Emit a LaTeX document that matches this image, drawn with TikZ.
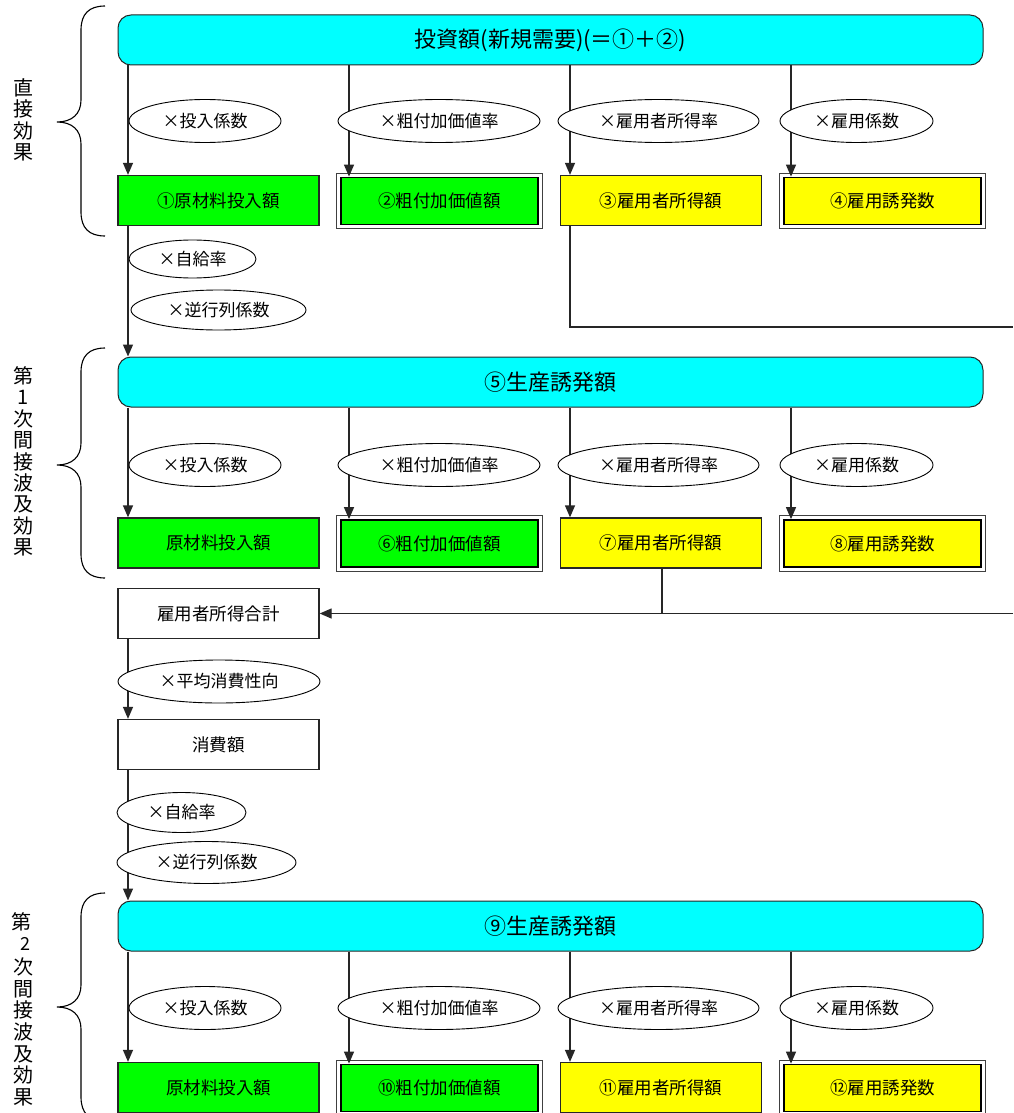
\documentclass[tikz,border=0pt]{standalone}
\usepackage{fontspec}
\setmainfont{Noto Sans CJK JP}
\usetikzlibrary{arrows.meta,shapes.geometric,calc}
\definecolor{aqua}{RGB}{0,255,255}
\definecolor{lime}{RGB}{0,255,0}
\definecolor{yel}{RGB}{255,255,0}
\begin{document}
\begin{tikzpicture}[x=1pt,y=-1pt,
 every node/.style={inner sep=0pt},
 conn/.style={line width=1.3pt, draw=black!85},
 arr/.style={conn, -{Triangle[width=10pt,length=12pt]}},
 bigbox/.style={draw=black!85, line width=1pt, fill=aqua, rounded corners=13pt, minimum width=865pt, minimum height=50pt, font=\fontsize{22}{26}\selectfont},
 box/.style={draw=black!85, line width=1.3pt, minimum width=201pt, minimum height=50pt, font=\fontsize{17.5}{20}\selectfont},
 dbox/.style={draw=black, line width=1.8pt, minimum width=197pt, minimum height=47pt, font=\fontsize{17.5}{20}\selectfont},
 outline/.style={draw=black!75, line width=0.9pt},
 oval/.style={ellipse, draw=black, line width=0.9pt, fill=white, minimum height=43pt, font=\fontsize{17}{20}\selectfont},
 brace/.style={line width=1.1pt, draw=black},
 side/.style={align=center, font=\fontsize{20}{21.4}\selectfont}
]
\useasboundingbox (0,0) rectangle (1013,1113);
\fill[white] (0,0) rectangle (1013,1113);

% x positions of connectors
\coordinate (xa) at (128,0);
\coordinate (xb) at (349,0);
\coordinate (xc) at (570,0);
\coordinate (xd) at (791,0);
\coordinate (xj) at (662,0);
\coordinate (r1) at (1013,327);
\coordinate (r2) at (1013,613.5);

% boxes
\node[bigbox] (top) at (550.5,40) {投資額(新規需要)(＝①＋②)};
\node[box, fill=lime] (a1) at (218.5,200.5) {①原材料投入額};
\node[dbox, fill=lime] (a2) at (439.5,201) {②粗付加価値額};
\node[box, fill=yel] (a3) at (661,200.5) {③雇用者所得額};
\node[dbox, fill=yel] (a4) at (882.5,201) {④雇用誘発数};

\node[bigbox] (m) at (550.5,382) {⑤生産誘発額};
\node[box, fill=lime] (b1) at (218.5,543) {原材料投入額};
\node[dbox, fill=lime] (b2) at (439.5,543.5) {⑥粗付加価値額};
\node[box, fill=yel] (b3) at (661,543) {⑦雇用者所得額};
\node[dbox, fill=yel] (b4) at (882.5,543.5) {⑧雇用誘発数};

\node[box, fill=white] (sum) at (218.5,613.5) {雇用者所得合計};
\node[box, fill=white] (cons) at (218.5,744.5) {消費額};

\node[bigbox] (bot) at (550.5,926) {⑨生産誘発額};
\node[box, fill=lime] (c1) at (218.5,1087.5) {原材料投入額};
\node[dbox, fill=lime] (c2) at (439.5,1088) {⑩粗付加価値額};
\node[box, fill=yel] (c3) at (661,1087.5) {⑪雇用者所得額};
\node[dbox, fill=yel] (c4) at (882.5,1088) {⑫雇用誘発数};

% outer frame of double-bordered boxes
\foreach \n in {a2,a4,b2,b4,c2,c4}
  \draw[outline] ([shift={(-3.5pt,-3.5pt)}]\n.south west) rectangle ([shift={(3.5pt,3.5pt)}]\n.north east);

% connectors
\foreach \x/\b in {xa/a1, xb/a2, xc/a3, xd/a4}
  \draw[arr] (top.south -| \x) -- (\b.north -| \x);
\foreach \x/\b in {xa/b1, xb/b2, xc/b3, xd/b4}
  \draw[arr] (m.south -| \x) -- (\b.north -| \x);
\foreach \x/\b in {xa/c1, xb/c2, xc/c3, xd/c4}
  \draw[arr] (bot.south -| \x) -- (\b.north -| \x);
\draw[arr] (a1.south -| xa) -- (m.north -| xa);
\draw[conn] (a3.south -| xc) |- (r1);
\draw[conn] (b3.south -| xj) -- (xj |- sum.east);
\draw[arr] (r2) -- (sum.east);
\draw[arr] (sum.south -| xa) -- (cons.north -| xa);
\draw[arr] (cons.south -| xa) -- (bot.north -| xa);

% rate labels
\foreach \y/\s in {121/a,465/b,1008/c} {
  \node[oval, minimum width=152pt] (e\s1) at (205,\y) {×投入係数};
  \node[oval, minimum width=202pt] (e\s2) at (439,\y) {×粗付加価値率};
  \node[oval, minimum width=201pt] (e\s3) at (658.5,\y) {×雇用者所得率};
  \node[oval, minimum width=153pt] (e\s4) at (856.5,\y) {×雇用係数};
}
\node[oval, minimum width=127pt, minimum height=38pt] (s1) at (192.5,259) {×自給率};
\node[oval, minimum width=175pt, minimum height=40pt] (i1) at (218.5,310) {×逆行列係数};
\node[oval, minimum width=202pt, minimum height=43pt] (pc) at (219,681.5) {×平均消費性向};
\node[oval, minimum width=129pt, minimum height=40pt] (s2) at (181.5,812.5) {×自給率};
\node[oval, minimum width=179pt, minimum height=42pt] (i2) at (206.5,862.5) {×逆行列係数};

% braces
\draw[brace] (105,6) .. controls (89,6) and (81,14) .. (81,30) -- (81,100)
  .. controls (81,114) and (72,122) .. (57,122)
  .. controls (72,122) and (81,130) .. (81,144) -- (81,212)
  .. controls (81,228) and (89,236) .. (105,236);
\draw[brace] (105,348) .. controls (89,348) and (81,356) .. (81,372) -- (81,443)
  .. controls (81,457) and (72,465) .. (57,465)
  .. controls (72,465) and (81,473) .. (81,487) -- (81,554)
  .. controls (81,570) and (89,578) .. (105,578);
\draw[brace] (105,893) .. controls (89,893) and (81,901) .. (81,917) -- (81,985)
  .. controls (81,999) and (72,1007) .. (57,1007)
  .. controls (72,1007) and (81,1015) .. (81,1029) -- (81,1097)
  .. controls (81,1113) and (89,1121) .. (105,1121);

% side labels
\node[side] (l1) at (23,120) {直\\接\\効\\果};
\node[side] (l2) at (23,461.5) {第\\1\\次\\間\\接\\波\\及\\効\\果};
\node[side] (l3a) at (22,922) {第};
\node[side, font=\fontsize{18}{20}\selectfont] (l3b) at (25,944) {2};
\node[side, font=\fontsize{20}{21.7}\selectfont] (l3c) at (23,1032) {次\\間\\接\\波\\及\\効\\果};
\end{tikzpicture}
\end{document}
